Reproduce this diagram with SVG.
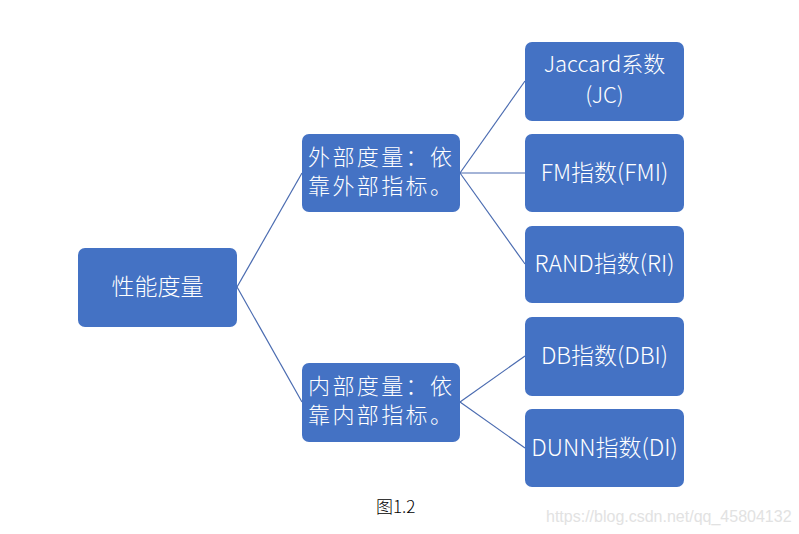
<svg xmlns="http://www.w3.org/2000/svg" width="799" height="534" viewBox="0 0 799 534">
<style>
.box{fill:#4472C4;}
.t{font-family:"Noto Sans CJK SC","Noto Sans",sans-serif;font-size:23px;font-weight:300;fill:#ffffff;text-anchor:middle;}
.tl{font-family:"Noto Sans CJK SC","Noto Sans",sans-serif;font-size:22px;font-weight:300;fill:#ffffff;}
.c{stroke:#4A6BB0;stroke-width:1.2;fill:none;}
</style>
<rect width="799" height="534" fill="#ffffff"/>
<g id="connectors">
<line class="c" x1="237" y1="287" x2="302" y2="173"/>
<line class="c" x1="237" y1="287" x2="302" y2="402"/>
<line class="c" x1="460" y1="173" x2="525" y2="81"/>
<line class="c" x1="460" y1="173" x2="525" y2="173"/>
<line class="c" x1="460" y1="173" x2="525" y2="264"/>
<line class="c" x1="460" y1="402" x2="525" y2="356"/>
<line class="c" x1="460" y1="402" x2="525" y2="448"/>
</g>
<g id="root">
<rect class="box" x="78" y="248" width="159" height="79" rx="7"/>
<text class="t" x="157.5" y="295">性能度量</text>
</g>
<g id="external">
<rect class="box" x="302" y="134" width="158" height="78" rx="7"/>
<text class="tl" x="308" y="165" textLength="144" lengthAdjust="spacing">外部度量：依</text>
<text class="tl" x="308" y="194" textLength="144" lengthAdjust="spacing">靠外部指标。</text>
</g>
<g id="internal">
<rect class="box" x="302" y="363" width="158" height="79" rx="7"/>
<text class="tl" x="308" y="394" textLength="144" lengthAdjust="spacing">内部度量：依</text>
<text class="tl" x="308" y="423" textLength="144" lengthAdjust="spacing">靠内部指标。</text>
</g>
<g id="jaccard">
<rect class="box" x="525" y="42" width="159" height="79" rx="7"/>
<text class="t" x="604.5" y="72" style="font-size:22px">Jaccard系数</text>
<text class="t" x="604.5" y="103" style="font-size:22px">(JC)</text>
</g>
<g id="fm">
<rect class="box" x="525" y="134" width="159" height="78" rx="7"/>
<text class="t" x="604.5" y="181">FM指数(FMI)</text>
</g>
<g id="rand">
<rect class="box" x="525" y="226" width="159" height="77" rx="7"/>
<text class="t" x="604.5" y="272">RAND指数(RI)</text>
</g>
<g id="db">
<rect class="box" x="525" y="317" width="159" height="79" rx="7"/>
<text class="t" x="604.5" y="364">DB指数(DBI)</text>
</g>
<g id="dunn">
<rect class="box" x="525" y="409" width="159" height="78" rx="7"/>
<text class="t" x="604.5" y="456">DUNN指数(DI)</text>
</g>
<text x="376" y="513" font-family="Noto Sans CJK SC,sans-serif" font-size="17" font-weight="300" fill="#000000">图1.2</text>
<text x="546" y="522" font-family="Liberation Sans,Arial,sans-serif" font-size="16" fill="#e2e2e2">https://blog.csdn.net/qq_45804132</text>
</svg>
